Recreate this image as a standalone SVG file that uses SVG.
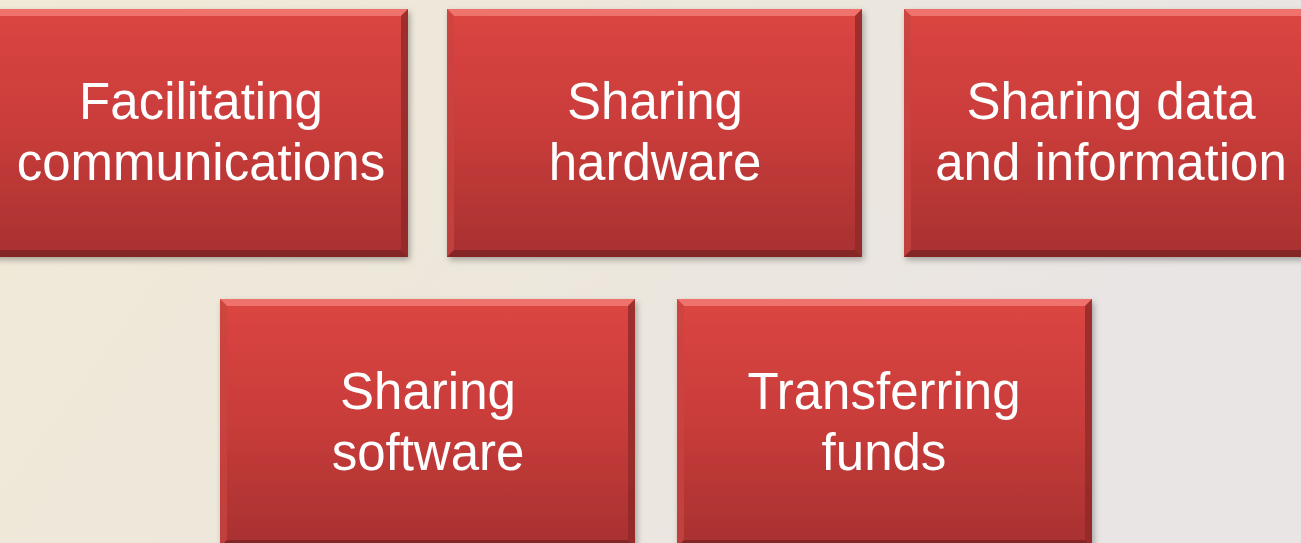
<svg xmlns="http://www.w3.org/2000/svg" width="1301" height="543" viewBox="0 0 1301 543">
<defs>
<linearGradient id="bg" x1="0" y1="0" x2="1" y2="0.3">
<stop offset="0" stop-color="#f1ead7"/>
<stop offset="0.5" stop-color="#ede7dc"/>
<stop offset="1" stop-color="#e9e5e5"/>
</linearGradient>
<linearGradient id="boxfill" x1="0" y1="0" x2="0" y2="1">
<stop offset="0" stop-color="#dc4542"/>
<stop offset="0.5" stop-color="#c83c3a"/>
<stop offset="1" stop-color="#a83130"/>
</linearGradient>
<filter id="shadow" x="-10%" y="-10%" width="120%" height="120%">
<feDropShadow dx="2" dy="3" stdDeviation="3" flood-color="#000" flood-opacity="0.3"/>
</filter>
<g id="box">
<rect x="0" y="0" width="415" height="248" fill="url(#boxfill)"/>
<polygon points="0,0 415,0 408,7 7,7" fill="#f27a74" opacity="0.85"/>
<polygon points="0,0 7,7 7,241 0,248" fill="#c94542" opacity="0.7"/>
<polygon points="415,0 415,248 408,241 408,7" fill="#8e2a29" opacity="0.8"/>
<polygon points="0,248 7,241 408,241 415,248" fill="#7f2424" opacity="0.85"/>
</g>
</defs>
<style>
.lbl{font-family:"Liberation Sans",Arial,sans-serif;font-size:51px;fill:#ffffff;text-anchor:middle}
</style>
<rect width="1301" height="543" fill="url(#bg)"/>
<g id="connectors"/>
<g id="node-facilitating" filter="url(#shadow)">
<use href="#box" x="-7" y="9"/>
<text class="lbl" x="201" y="119">Facilitating</text>
<text class="lbl" x="201" y="180">communications</text>
</g>
<g id="node-hardware" filter="url(#shadow)">
<use href="#box" x="447" y="9"/>
<text class="lbl" x="655" y="119">Sharing</text>
<text class="lbl" x="655" y="180">hardware</text>
</g>
<g id="node-data" filter="url(#shadow)">
<use href="#box" x="904" y="9"/>
<text class="lbl" x="1111" y="119">Sharing data</text>
<text class="lbl" x="1111" y="180">and information</text>
</g>
<g id="node-software" filter="url(#shadow)">
<use href="#box" x="220" y="299"/>
<text class="lbl" x="428" y="409">Sharing</text>
<text class="lbl" x="428" y="470">software</text>
</g>
<g id="node-funds" filter="url(#shadow)">
<use href="#box" x="677" y="299"/>
<text class="lbl" x="884" y="409">Transferring</text>
<text class="lbl" x="884" y="470">funds</text>
</g>
</svg>
